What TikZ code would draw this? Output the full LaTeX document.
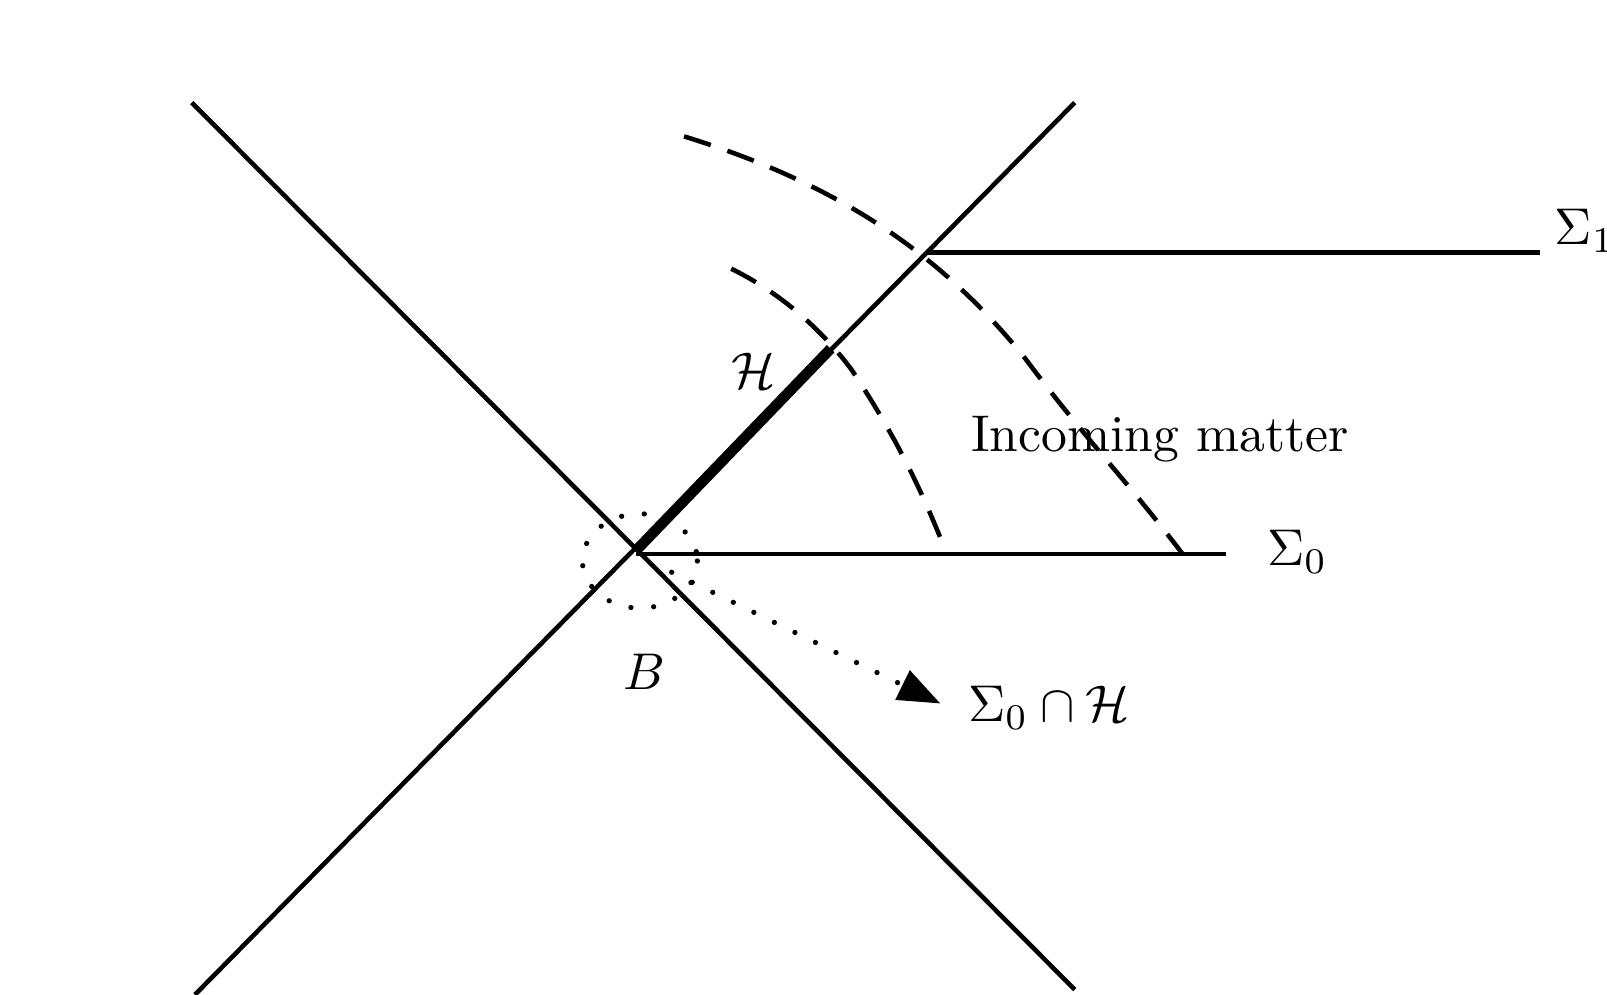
\documentclass[tikz,border=0pt]{standalone}
\usetikzlibrary{arrows.meta}
\begin{document}
\begin{tikzpicture}[x=0.010255cm,y=-0.010255cm,
  ln/.style={line width=1.3pt},
  dsh/.style={line width=1.3pt,dash pattern=on 8pt off 5pt},
  dts/.style={line width=1.5pt,dash pattern=on 0pt off 6.5pt,line cap=round},
  lab/.style={inner sep=0pt,scale=1.47}]
\useasboundingbox (0,0) rectangle (1567,970);
\coordinate (O) at (620,537);
\coordinate (tl) at (187,100); \coordinate (br) at (1048,965);
\coordinate (bl) at (190,970); \coordinate (tr) at (1048,100);
\coordinate (s0) at (1195,540); \coordinate (s1a) at (905,246); \coordinate (s1b) at (1502,246);
\draw[ln] (tl)--(br);
\draw[ln] (bl)--(tr);
\draw[ln] (620,540)--(s0);
\draw[ln] (s1a)--(s1b);
\draw[line width=3pt] (O)--(810,340);
\draw[dsh] (667,133) .. controls (820,180) and (920,250) .. (1000,350) .. controls (1060,430) and (1100,470) .. (1153,540);
\draw[dsh] (713,262) .. controls (760,285) and (800,320) .. (830,360) .. controls (870,420) and (895,470) .. (918,527);
\draw[dts] (624,547) ellipse [x radius=56,y radius=46];
\coordinate (ae) at (917,686);
\draw[dts,-{Triangle[length=12pt,width=9pt]}] (655,558)--(ae);
\node[lab] (H) at (735,362) {$\mathcal{H}$};
\node[lab] (im) at (1131,428) {Incoming matter};
\node[lab] (S0) at (1265,538) {$\Sigma_0$};
\node[lab,anchor=west] (S1) at (1515,225) {$\Sigma_1$};
\node[lab] (B) at (628,655) {$B$};
\node[lab,anchor=west] (SH) at (943,690) {$\Sigma_0\cap\mathcal{H}$};
\end{tikzpicture}
\end{document}
